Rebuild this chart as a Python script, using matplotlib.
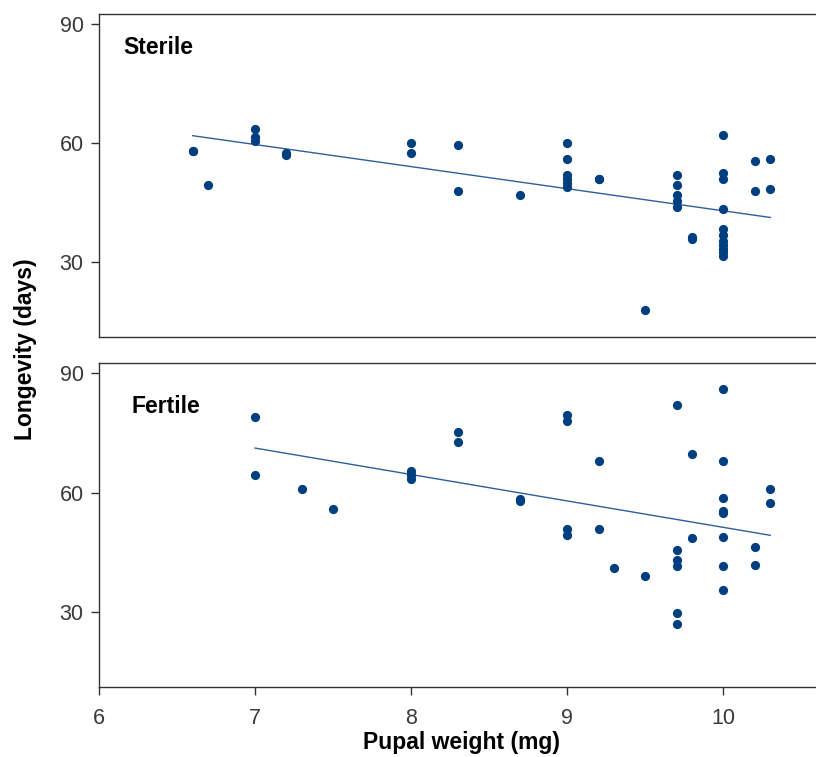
import numpy as np
import matplotlib.pyplot as plt

plt.rcParams['font.family'] = ['Liberation Sans', 'DejaVu Sans']

# Sterile group: pupal weight (mg) vs longevity (days)
sterile_x = [6.6, 6.6, 6.7, 7.0, 7.0, 7.0, 7.2, 7.2, 8.0, 8.0, 8.3, 8.3, 8.7,
             9.0, 9.0, 9.0, 9.0, 9.0, 9.0, 9.2, 9.2, 9.5,
             9.7, 9.7, 9.7, 9.7, 9.7, 9.8, 9.8,
             10.0, 10.0, 10.0, 10.0, 10.0, 10.0, 10.0, 10.0, 10.0, 10.0, 10.0,
             10.2, 10.2, 10.3, 10.3]
sterile_y = [58, 58, 49.5, 63.5, 61.5, 60.5, 57.5, 57, 60, 57.5, 59.5, 48, 47,
             60, 56, 52, 51, 50, 49, 51, 51, 18,
             52, 49.5, 47, 45.5, 44, 36.5, 36,
             62, 52.5, 51, 43.5, 38.5, 37, 35.5, 34.5, 33.5, 32.5, 31.5,
             55.5, 48, 56, 48.5]

# Fertile group
fertile_x = [7.0, 7.0, 7.3, 7.5, 8.0, 8.0, 8.0, 8.3, 8.3, 8.7, 8.7,
             9.0, 9.0, 9.0, 9.0, 9.2, 9.2, 9.3, 9.5,
             9.7, 9.7, 9.7, 9.7, 9.7, 9.7, 9.8, 9.8,
             10.0, 10.0, 10.0, 10.0, 10.0, 10.0, 10.0, 10.0,
             10.2, 10.2, 10.3, 10.3]
fertile_y = [79, 64.5, 61, 56, 65.5, 64.5, 63.5, 75.3, 72.8, 58.5, 57.8,
             79.5, 78, 51, 49.5, 68, 51, 41, 39.2,
             82, 45.5, 43.2, 41.6, 29.7, 27.1, 69.8, 48.6,
             86, 68, 58.6, 55.4, 54.8, 49, 41.7, 35.6,
             46.4, 41.8, 61, 57.4]

# fitted lines (slope, intercept, x range)
sterile_fit = (-5.57, 98.7, 6.6, 10.3)
fertile_fit = (-6.64, 117.7, 7.0, 10.3)

panels = [("Sterile", sterile_x, sterile_y, sterile_fit, 0.034, 0.895),
          ("Fertile", fertile_x, fertile_y, fertile_fit, 0.045, 0.867)]

dot_color = "#003f7f"
line_color = "#2d5f9a"
spine_color = "#333333"

fig = plt.figure(figsize=(8.16, 7.57), dpi=100)
ax_top = fig.add_axes([0.1213, 0.5548, 0.8800, 0.4267])
ax_bot = fig.add_axes([0.1213, 0.0925, 0.8800, 0.4280])

for ax, (name, xs, ys, fit, tx, ty) in zip([ax_top, ax_bot], panels):
    ax.scatter(xs, ys, s=44, color=dot_color, zorder=3, linewidths=0)
    slope, icpt, x0, x1 = fit
    fx = np.array([x0, x1])
    ax.plot(fx, slope * fx + icpt, color=line_color, lw=1.0, zorder=2)

    ax.set_xlim(6, 10.6)
    ax.set_ylim(11.2, 92.6)
    ax.set_yticks([30, 60, 90])
    for side in ["top", "left", "bottom"]:
        ax.spines[side].set_color(spine_color)
        ax.spines[side].set_linewidth(1.0)
    ax.spines["right"].set_visible(False)
    ax.tick_params(axis="y", direction="out", length=6, width=1,
                   color=spine_color, labelsize=15.5, labelcolor="#3a3a3a", pad=5)
    ax.text(tx, ty, name, transform=ax.transAxes, fontsize=16.5,
            fontweight="bold", va="center")

ax_top.tick_params(axis="x", bottom=False, labelbottom=False)
ax_bot.set_xticks([6, 7, 8, 9, 10])
ax_bot.tick_params(axis="x", direction="out", length=6, width=1,
                   color=spine_color, labelsize=15.5, labelcolor="#3a3a3a", pad=9)

fig.text(0.566, 0.0106, "Pupal weight (mg)", fontsize=16.5, fontweight="bold",
         ha="center", va="baseline")
fig.text(0.031, 0.539, "Longevity (days)", rotation=90, fontsize=16.5,
         fontweight="bold", ha="center", va="center")

fig.savefig("out.png", dpi=100)
